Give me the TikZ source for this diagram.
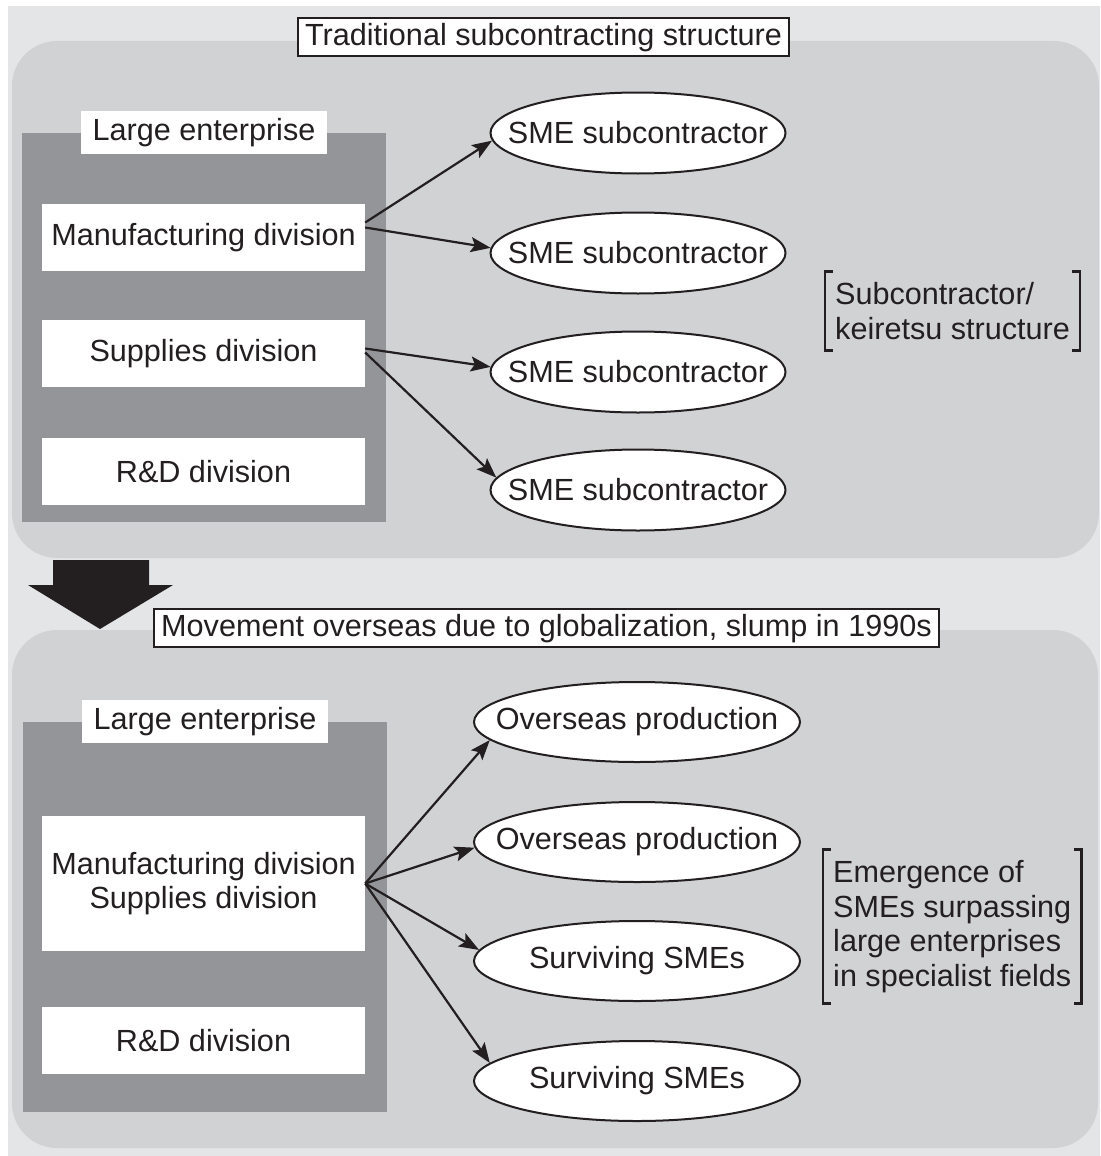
\documentclass[tikz,border=0pt]{standalone}
\usepackage{fontspec}
\setmainfont{Liberation Sans}
\usetikzlibrary{shapes.geometric,arrows.meta,positioning}
\definecolor{ink}{HTML}{231F20}
\definecolor{outerbg}{HTML}{E4E5E6}
\definecolor{panelbg}{HTML}{D1D2D4}
\definecolor{entbg}{HTML}{939598}
\tikzset{
  panel/.style={fill=panelbg, rounded corners=45pt},
  ent/.style={fill=entbg, inner sep=0pt, minimum width=364pt},
  entlabel/.style={fill=white, inner xsep=12pt, inner ysep=0pt, minimum height=43pt, text height=22pt, text depth=6pt},
  division/.style={fill=white, inner sep=0pt, minimum width=323pt, align=center},
  sme/.style={ellipse, draw=ink, line width=2pt, fill=white, inner xsep=-26pt, inner ysep=0pt, minimum height=81pt},
  heading/.style={draw=ink, line width=2pt, fill=white, inner xsep=7pt, inner ysep=5pt, text height=22pt, text depth=6pt},
  note/.style={align=left, inner xsep=10pt, inner ysep=11pt, anchor=west},
  bracket/.style={draw=ink, line width=2.5pt},
  link/.style={draw=ink, line width=2.2pt, -{Stealth[length=20pt,width=15pt,inset=4pt]}},
}
\begin{document}
\begin{tikzpicture}[x=1pt, y=-1pt, text=ink, font=\fontsize{30.6}{34.5}\selectfont]
  \useasboundingbox (0,0) rectangle (1100,1156);
  \fill[outerbg] (8,6) rectangle (1100,1156);
  \fill[panel] (12,41) rectangle (1099,558);
  \fill[panel] (12,630) rectangle (1098,1148);

  \node[heading] (head1) at (543.5,37.5) {Traditional subcontracting structure};

  \node[ent, minimum height=389pt] (ent1) at (204,327.5) {};
  \node[entlabel] (entname1) at (ent1.north) {Large enterprise};
  \node[division, minimum height=67pt] (mfg1) at (203.5,237.5) {Manufacturing division};
  \node[division, minimum height=67pt] (sup1) at (203.5,353.5) {Supplies division};
  \node[division, minimum height=67pt] (rnd1) at (203.5,471.5) {R\&D division};

  \node[sme, minimum width=295pt] (sub1) at (638,133) {SME subcontractor};
  \node[sme, minimum width=295pt, below=37pt of sub1] (sub2) {SME subcontractor};
  \node[sme, minimum width=295pt, below=36pt of sub2] (sub3) {SME subcontractor};
  \node[sme, minimum width=295pt, below=35pt of sub3] (sub4) {SME subcontractor};

  \draw[link] ([yshift=15pt]mfg1.east) -- (sub1.183);
  \draw[link] ([yshift=10pt]mfg1.east) -- (sub2.178);
  \draw[link] ([yshift=5pt]sup1.east) -- (sub3.178);
  \draw[link] ([yshift=1pt]sup1.east) -- (sub4.175);

  \node[note] (keiretsu) at (825,311) {Subcontractor/\\keiretsu structure};
  \draw[bracket] ([xshift=8pt]keiretsu.north west) -- (keiretsu.north west) -- (keiretsu.south west) -- ([xshift=8pt]keiretsu.south west);
  \draw[bracket] ([xshift=-8pt]keiretsu.north east) -- (keiretsu.north east) -- (keiretsu.south east) -- ([xshift=-8pt]keiretsu.south east);

  \fill[ink] (53,560) -- (149,560) -- (149,585) -- (173,585) -- (100,629) -- (28,585) -- (53,585) -- cycle;

  \node[heading] (head2) at (546.5,628) {Movement overseas due to globalization, slump in 1990s};

  \node[ent, minimum height=390pt] (ent2) at (205,917) {};
  \node[entlabel] (entname2) at (ent2.north) {Large enterprise};
  \node[division, minimum height=135pt] (mfg2) at (203.5,883.5) {Manufacturing division\\Supplies division};
  \node[division, minimum height=67pt] (rnd2) at (203.5,1040.5) {R\&D division};

  \node[sme, minimum width=326pt, minimum height=80pt] (abroad1) at (637,722) {Overseas production};
  \node[sme, minimum width=326pt, minimum height=80pt, below=38pt of abroad1] (abroad2) {Overseas production};
  \node[sme, minimum width=326pt, minimum height=80pt, below=37pt of abroad2] (survive1) {Surviving SMEs};
  \node[sme, minimum width=326pt, minimum height=80pt, below=38pt of survive1] (survive2) {Surviving SMEs};

  \draw[link] (mfg2.east) -- (abroad1.187);
  \draw[link] (mfg2.east) -- (abroad2.182);
  \draw[link] (mfg2.east) -- (survive1.176);
  \draw[link] (mfg2.east) -- (survive2.173);

  \node[note] (emerge) at (823,926.5) {Emergence of\\SMEs surpassing\\large enterprises\\in specialist fields};
  \draw[bracket] ([xshift=8pt]emerge.north west) -- (emerge.north west) -- (emerge.south west) -- ([xshift=8pt]emerge.south west);
  \draw[bracket] ([xshift=-8pt]emerge.north east) -- (emerge.north east) -- (emerge.south east) -- ([xshift=-8pt]emerge.south east);
\end{tikzpicture}
\end{document}
